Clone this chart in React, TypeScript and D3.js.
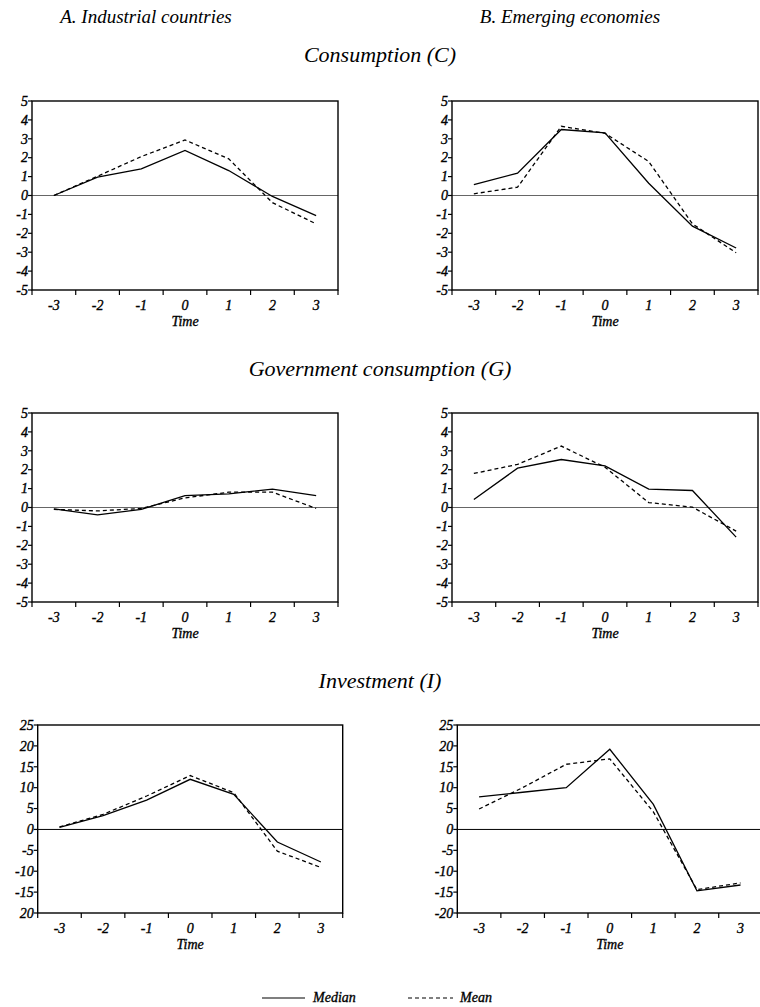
import React from 'react';
import * as d3 from 'd3';

// event time (years around the episode)
const periods = [-3, -2, -1, 0, 1, 2, 3];

// Consumption (C)
const consIndMedian = [0.0, 0.97, 1.41, 2.38, 1.32, -0.05, -1.06];
const consIndMean = [0.0, 1.02, 2.06, 2.94, 1.94, -0.38, -1.5];
const consEmgMedian = [0.58, 1.18, 3.49, 3.31, 0.65, -1.62, -2.78];
const consEmgMean = [0.09, 0.44, 3.66, 3.29, 1.8, -1.5, -3.03];

// Government consumption (G)
const govIndMedian = [-0.07, -0.39, -0.1, 0.63, 0.72, 0.97, 0.63];
const govIndMean = [-0.1, -0.18, -0.05, 0.51, 0.81, 0.81, -0.05];
const govEmgMedian = [0.42, 2.08, 2.54, 2.2, 0.97, 0.9, -1.57];
const govEmgMean = [1.8, 2.28, 3.25, 2.13, 0.26, 0.02, -1.25];

// Investment (I)
const invIndMedian = [0.5, 3.3, 7.0, 12.0, 8.4, -3.0, -7.8];
const invIndMean = [0.6, 3.6, 8.0, 12.9, 8.8, -5.2, -9.1];
const invEmgMedian = [7.8, 8.9, 10.0, 19.2, 6.0, -14.7, -13.3];
const invEmgMean = [4.9, 10.0, 15.6, 16.9, 4.2, -14.4, -12.8];

// tick labels
const smallTicks = [5, 4, 3, 2, 1, 0, -1, -2, -3, -4, -5];
const invTicks = [25, 20, 15, 10, 5, 0, -5, -10, -15, -20];
const invTickLabelsA = ['25', '20', '15', '10', '5', '0', '-5', '-10', '-15', '20'];
const invTickLabelsB = ['25', '20', '15', '10', '5', '0', '-5', '-10', '-15', '-20'];

const columnTitles = ['A. Industrial countries', 'B. Emerging economies'];
const rowTitles = ['Consumption (C)', 'Government consumption (G)', 'Investment (I)'];
const legendLabels = ['Median', 'Mean'];

const tickFont = "'Liberation Serif', serif";
const titleFont = "'Liberation Serif', serif";
const tickSize = 14;

type PanelProps = {
  left: number;
  top: number;
  width: number;
  height: number;
  domain: [number, number];
  ticks: number[];
  tickLabels?: string[];
  median: number[];
  mean: number[];
  zeroColor: string;
  zeroWidth: number;
};

function Label(props: { x: number; y: number; anchor?: string; dy?: string; children: string }) {
  return (
    <text x={props.x} y={props.y} dy={props.dy} textAnchor={props.anchor || 'start'} fontFamily={tickFont}
      fontStyle="italic" fontSize={tickSize} stroke="#000" strokeWidth={0.35}>
      {props.children}
    </text>
  );
}

function Panel(props: PanelProps) {
  const { left, top, width, height, domain, ticks, tickLabels, median, mean, zeroColor, zeroWidth } = props;
  const x = d3.scaleLinear().domain([-3.5, 3.5]).range([left, left + width]);
  const y = d3.scaleLinear().domain(domain).range([top + height, top]);
  const bounds = d3.range(-3.5, 3.51, 1);

  const line = d3.line<number>()
    .x((d, i) => x(periods[i]))
    .y((d) => y(d));

  const bottom = top + height;

  return (
    <g>
      <line x1={left} x2={left + width} y1={y(0)} y2={y(0)} stroke={zeroColor} strokeWidth={zeroWidth} />
      <path d={line(mean) || ''} fill="none" stroke="#000" strokeWidth={1.3} strokeDasharray="4,3" />
      <path d={line(median) || ''} fill="none" stroke="#000" strokeWidth={1.3} />
      <rect x={left} y={top} width={width} height={height} fill="none" stroke="#000" strokeWidth={1.4} />
      {ticks.map((t, i) => (
        <g key={'y' + t}>
          <line x1={left - 4} x2={left} y1={y(t)} y2={y(t)} stroke="#000" strokeWidth={1.2} />
          <Label x={left - 4} y={y(t)} dy="0.34em" anchor="end">
            {tickLabels ? tickLabels[i] : String(t)}
          </Label>
        </g>
      ))}
      {bounds.map((b) => (
        <line key={'xb' + b} x1={x(b)} x2={x(b)} y1={bottom} y2={bottom + 5} stroke="#000" strokeWidth={1.2} />
      ))}
      {periods.map((p) => (
        <Label key={'xl' + p} x={x(p)} y={bottom + 20} anchor="middle">{String(p)}</Label>
      ))}
      <Label x={x(0)} y={bottom + 36} anchor="middle">Time</Label>
    </g>
  );
}

export default function App() {
  const colLeft = [32, 452];
  const invLeft = [37.7, 457.3];
  const panelW = 306;
  const invW = 305;

  return (
    <svg width={760} height={1007} style={{ position: 'absolute', left: 0, top: 0, background: '#fff' }}>
      <text x={146} y={23} textAnchor="middle" fontFamily={titleFont} fontStyle="italic" fontSize={19}>
        {columnTitles[0]}
      </text>
      <text x={570} y={23} textAnchor="middle" fontFamily={titleFont} fontStyle="italic" fontSize={19}>
        {columnTitles[1]}
      </text>

      <text x={380} y={62} textAnchor="middle" fontFamily={titleFont} fontStyle="italic" fontSize={22}>
        {rowTitles[0]}
      </text>
      <Panel left={colLeft[0]} top={101} width={panelW} height={189} domain={[-5, 5]} ticks={smallTicks}
        median={consIndMedian} mean={consIndMean} zeroColor="#666" zeroWidth={1.2} />
      <Panel left={colLeft[1]} top={101} width={panelW} height={189} domain={[-5, 5]} ticks={smallTicks}
        median={consEmgMedian} mean={consEmgMean} zeroColor="#666" zeroWidth={1.2} />

      <text x={380} y={376} textAnchor="middle" fontFamily={titleFont} fontStyle="italic" fontSize={22}>
        {rowTitles[1]}
      </text>
      <Panel left={colLeft[0]} top={413} width={panelW} height={189} domain={[-5, 5]} ticks={smallTicks}
        median={govIndMedian} mean={govIndMean} zeroColor="#666" zeroWidth={1.2} />
      <Panel left={colLeft[1]} top={413} width={panelW} height={189} domain={[-5, 5]} ticks={smallTicks}
        median={govEmgMedian} mean={govEmgMean} zeroColor="#666" zeroWidth={1.2} />

      <text x={380} y={688} textAnchor="middle" fontFamily={titleFont} fontStyle="italic" fontSize={22}>
        {rowTitles[2]}
      </text>
      <Panel left={invLeft[0]} top={725} width={invW} height={188} domain={[-20, 25]} ticks={invTicks}
        tickLabels={invTickLabelsA} median={invIndMedian} mean={invIndMean} zeroColor="#000" zeroWidth={1} />
      <Panel left={invLeft[1]} top={725} width={invW} height={188} domain={[-20, 25]} ticks={invTicks}
        tickLabels={invTickLabelsB} median={invEmgMedian} mean={invEmgMean} zeroColor="#000" zeroWidth={1} />

      <g>
        <line x1={262} x2={305} y1={998} y2={998} stroke="#000" strokeWidth={1.2} />
        <Label x={313} y={1002}>{legendLabels[0]}</Label>
        <line x1={408} x2={453} y1={998} y2={998} stroke="#000" strokeWidth={1.2} strokeDasharray="4,3" />
        <Label x={460} y={1002}>{legendLabels[1]}</Label>
      </g>
    </svg>
  );
}
